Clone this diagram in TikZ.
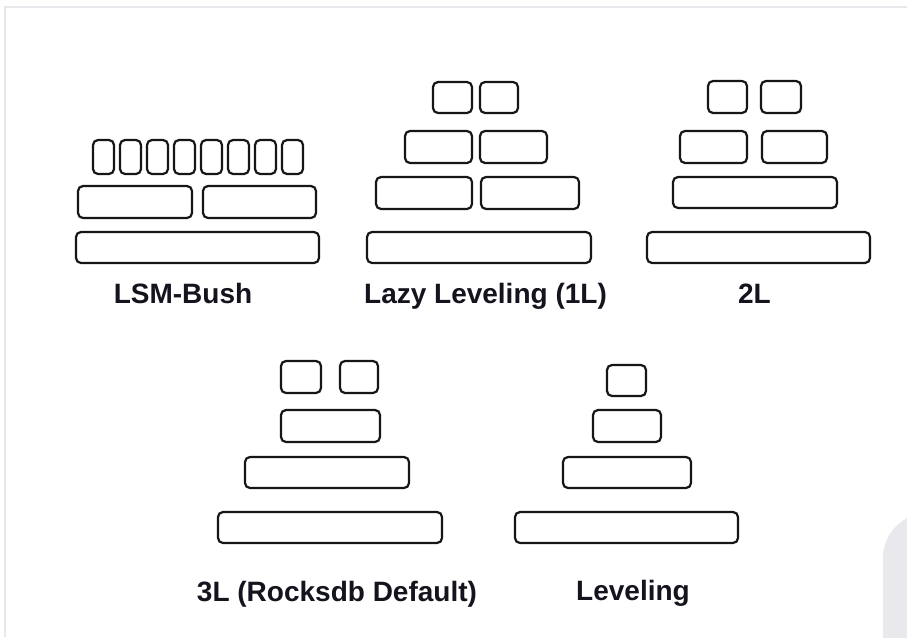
\documentclass[tikz,border=0pt]{standalone}
\usepackage{fontspec}
\setmainfont{Liberation Sans}
\definecolor{boxline}{HTML}{161616}
\definecolor{txt}{HTML}{14141E}
\definecolor{edge}{HTML}{E6E8EC}
\definecolor{blob}{HTML}{E9E9ED}
\tikzset{
  blk/.style={draw=boxline, line width=2.2pt, rounded corners=5pt, inner sep=0pt, outer sep=0pt, fill=white},
  lbl/.style={anchor=base, text=txt, font=\fontsize{28}{34}\selectfont\bfseries, inner sep=0pt}
}
\newcommand\bx[5]{\node[blk,minimum width={(#4-#2)*1pt},minimum height={(#5-#3)*1pt}] (#1) at ({(#2+#4)/2},{(#3+#5)/2}) {};}
\begin{document}
\begin{tikzpicture}[x=1pt,y=-1pt]
\useasboundingbox (0,0) rectangle (907,637);
\fill[white] (0,0) rectangle (907,637);
% faint frame and background shape
\draw[edge, line width=2pt] (5,637) -- (5,7) -- (907,7);
\begin{scope}
\clip (0,0) rectangle (907,637);
\fill[blob, rounded corners=45pt] (883,513) rectangle (980,700);
\end{scope}
% LSM-Bush
\foreach \i in {0,...,7} {
  \pgfmathsetmacro\xa{93+27*\i}
  \pgfmathsetmacro\xb{\xa+21}
  \bx{lsmt\i}{\xa}{140}{\xb}{174}
}
\bx{lsmma}{78}{186}{192}{218}
\bx{lsmmb}{203}{186}{316}{218}
\bx{lsmb}{76}{232}{319}{263}
\node[lbl] (lsmlbl) at (183,303) {LSM-Bush};
% Lazy Leveling
\bx{lzta}{433}{82}{472}{113}
\bx{lztb}{480}{82}{518}{113}
\bx{lzsa}{405}{131}{472}{163}
\bx{lzsb}{480}{131}{547}{163}
\bx{lzra}{376}{177}{472}{209}
\bx{lzrb}{481}{177}{579}{209}
\bx{lzb}{367}{232}{591}{263}
\node[lbl] (lzlbl) at (485.5,303) {Lazy Leveling (1L)};
% 2L
\bx{tlta}{708}{81}{747}{113}
\bx{tltb}{761}{81}{801}{113}
\bx{tlsa}{680}{131}{747}{163}
\bx{tlsb}{762}{131}{827}{163}
\bx{tlr}{673}{177}{837}{208}
\bx{tlb}{647}{232}{870}{263}
\node[lbl] (tllbl) at (754.5,303) {2L};
% 3L
\bx{thta}{281}{361}{321}{393}
\bx{thtb}{340}{361}{378}{393}
\bx{ths}{281}{410}{380}{442}
\bx{thr}{245}{457}{409}{488}
\bx{thb}{218}{512}{442}{543}
\node[lbl] (thlbl) at (337,601) {3L (Rocksdb Default)};
% Leveling
\bx{lvt}{607}{365}{646}{396}
\bx{lvs}{593}{410}{661}{442}
\bx{lvr}{563}{457}{691}{488}
\bx{lvb}{515}{512}{738}{543}
\node[lbl] (lvlbl) at (633,600) {Leveling};
\end{tikzpicture}
\end{document}
